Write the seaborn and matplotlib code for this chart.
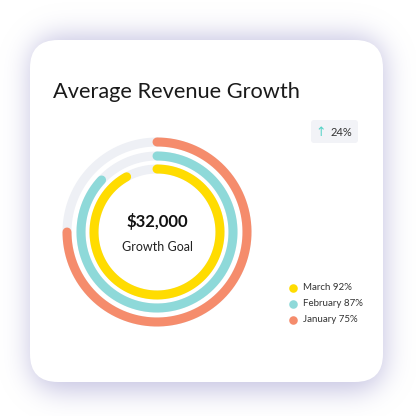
import numpy as np
import pandas as pd
import matplotlib
matplotlib.use("Agg")
import matplotlib.pyplot as plt
from matplotlib.patches import FancyBboxPatch
import seaborn as sns

# ---- data ----
months = ["January", "February", "March"]
percents = [75, 87, 92]
ring_radius = [90, 76, 63]
colors = ["#f58c6c", "#8ed9d9", "#ffdc00"]
title = "Average Revenue Growth"
center_value = "$32,000"
center_label = "Growth Goal"
badge_value = "24%"

sns.set_theme(style="white")
plt.rcParams["font.family"] = ["Lato", "DejaVu Sans"]

W = H = 416
fig = plt.figure(figsize=(W / 100, H / 100), dpi=100)
fig.patch.set_facecolor("white")

# background axes in pixel coordinates
bg = fig.add_axes([0, 0, 1, 1])
bg.set_xlim(0, W)
bg.set_ylim(H, 0)
bg.axis("off")

# soft shadow
yy, xx = np.mgrid[0:H, 0:W]
x0, x1, y0, y1, rad = 30, 384, 36, 390, 28
cx = np.clip(xx, x0 + rad, x1 - rad)
cy = np.clip(yy, y0 + rad, y1 - rad)
mask = (((xx - cx) ** 2 + (yy - cy) ** 2) <= rad ** 2).astype(float)
k = np.exp(-0.5 * (np.arange(-45, 46) / 13.0) ** 2)
k /= k.sum()
blur = np.apply_along_axis(lambda r: np.convolve(r, k, mode="same"), 1, mask)
blur = np.apply_along_axis(lambda c: np.convolve(c, k, mode="same"), 0, blur)
img = np.zeros((H, W, 4))
img[..., 0] = 0.78
img[..., 1] = 0.77
img[..., 2] = 0.89
img[..., 3] = np.clip(blur * 1.0, 0, 1)
bg.imshow(img, extent=[0, W, H, 0], zorder=0, interpolation="bilinear")

card = FancyBboxPatch((30 + 28, 40 + 28), 353 - 56, 342 - 56,
                      boxstyle="round,pad=28", facecolor="white",
                      edgecolor="none", zorder=1)
bg.add_patch(card)

bg.text(53, 92, title, fontsize=15.7, color="#1a1a1a", va="center",
        ha="left", zorder=3)

badge = FancyBboxPatch((314, 123), 41, 17, boxstyle="round,pad=3",
                       facecolor="#f2f3f7", edgecolor="none", zorder=2)
bg.add_patch(badge)
bg.text(321, 132, "↑", fontsize=9, color="#55d3c6", ha="center",
        va="center", zorder=3, family=["DejaVu Sans"])
bg.text(331, 132, badge_value, fontsize=8, color="#333333", ha="left",
        va="center", zorder=3)

# legend (March first)
for i, (m, p, c) in enumerate(zip(months[::-1], percents[::-1], colors[::-1])):
    yl = 288 + i * 16
    bg.scatter([293], [yl], s=38, color=c, zorder=3, linewidths=0)
    bg.text(303, yl, f"{m} {p}%", fontsize=7, color="#333333",
            va="center", ha="left", zorder=3)

# ---- rings on polar axes ----
ccx, ccy, R = 157, 232, 110
pax = fig.add_axes([(ccx - R) / W, (H - ccy - R) / H, 2 * R / W, 2 * R / H],
                   projection="polar")
pax.set_theta_zero_location("N")
pax.set_theta_direction(-1)
pax.set_ylim(0, R)
pax.patch.set_alpha(0)
pax.axis("off")

rows = []
for m, p, r in zip(months, percents, ring_radius):
    th = np.linspace(0, 2 * np.pi * p / 100, 300)
    rows.append(pd.DataFrame({"theta": th, "r": r, "month": m}))
df = pd.concat(rows)

lw = 9 * 72 / 100
for r in ring_radius:
    th = np.linspace(0, 2 * np.pi, 400)
    pax.plot(th, np.full_like(th, r), color="#eef0f5", lw=lw, zorder=1)

sns.lineplot(data=df, x="theta", y="r", hue="month", palette=colors,
             hue_order=months, sort=False, legend=False, ax=pax,
             linewidth=lw, zorder=2)
for line in pax.lines[len(ring_radius):]:
    line.set_solid_capstyle("round")
pax.set_ylim(0, R)

bg.text(ccx, 221, center_value, fontsize=12, fontweight="bold",
        color="#111111", ha="center", va="center", zorder=4)
bg.text(ccx, 247, center_label, fontsize=9, color="#222222",
        ha="center", va="center", zorder=4)
pax.set_zorder(3)

fig.savefig("out.png", dpi=100, facecolor="white")
